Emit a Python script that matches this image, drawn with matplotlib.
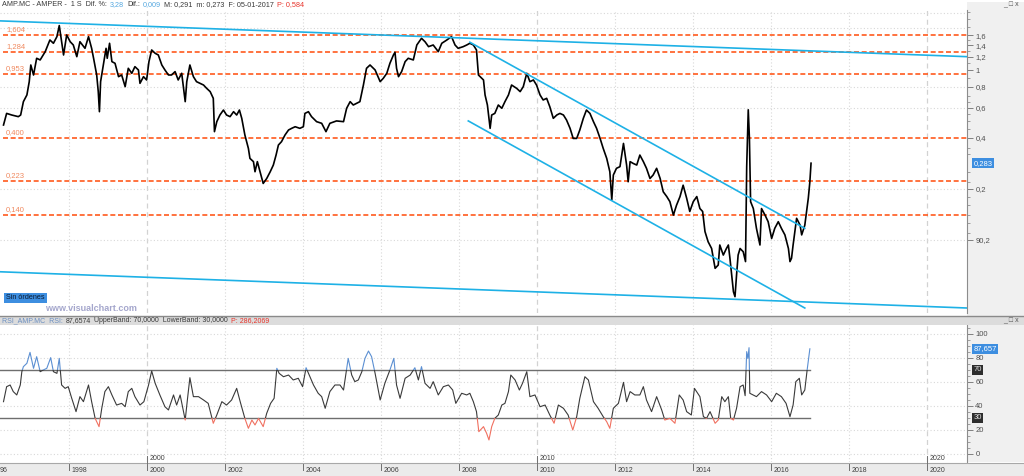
import matplotlib
matplotlib.use("Agg")
import matplotlib.pyplot as plt
from matplotlib.patches import Rectangle
from matplotlib.transforms import blended_transform_factory
from matplotlib.ticker import NullFormatter

plt.rcParams['font.family'] = ['Liberation Sans', 'DejaVu Sans']

# weekly close of AMP.MC (year, price)
price_years = [
    1996.31, 1996.39, 1996.52, 1996.69, 1996.75, 1996.82, 1996.91, 1996.97, 1997.01, 1997.08,
    1997.16, 1997.25, 1997.38, 1997.50, 1997.59, 1997.68, 1997.74, 1997.80, 1997.85, 1997.93,
    1998.02, 1998.10, 1998.19, 1998.27, 1998.40, 1998.49, 1998.57, 1998.62, 1998.70, 1998.74,
    1998.77, 1998.80, 1998.87, 1998.94, 1998.97, 1999.03, 1999.09, 1999.17, 1999.26, 1999.34,
    1999.43, 1999.51, 1999.60, 1999.68, 1999.77, 1999.81, 1999.90, 1999.98, 2000.04, 2000.11,
    2000.20, 2000.28, 2000.37, 2000.45, 2000.54, 2000.62, 2000.71, 2000.79, 2000.88, 2000.97,
    2001.01, 2001.09, 2001.18, 2001.26, 2001.35, 2001.44, 2001.52, 2001.61, 2001.69, 2001.72,
    2001.78, 2001.86, 2001.95, 2002.03, 2002.12, 2002.21, 2002.29, 2002.36, 2002.42, 2002.50,
    2002.59, 2002.63, 2002.72, 2002.76, 2002.82, 2002.89, 2002.97, 2003.06, 2003.15, 2003.23,
    2003.30, 2003.36, 2003.44, 2003.53, 2003.62, 2003.70, 2003.79, 2003.91, 2004.00, 2004.04,
    2004.13, 2004.21, 2004.34, 2004.47, 2004.58, 2004.68, 2004.85, 2005.03, 2005.11, 2005.20,
    2005.28, 2005.45, 2005.54, 2005.62, 2005.71, 2005.84, 2005.97, 2006.05, 2006.14, 2006.22,
    2006.31, 2006.35, 2006.39, 2006.44, 2006.52, 2006.61, 2006.69, 2006.82, 2006.86, 2006.91,
    2007.03, 2007.12, 2007.21, 2007.33, 2007.46, 2007.55, 2007.68, 2007.80, 2007.89, 2007.97,
    2008.10, 2008.19, 2008.27, 2008.36, 2008.44, 2008.49,
    2008.62, 2008.66, 2008.72, 2008.79, 2008.83, 2008.91, 2009.00, 2009.09, 2009.17, 2009.26,
    2009.34, 2009.47, 2009.56, 2009.64, 2009.73, 2009.81, 2009.90, 2009.98,
    2010.07, 2010.15, 2010.24, 2010.32, 2010.41, 2010.50, 2010.58, 2010.67, 2010.75, 2010.84,
    2010.92, 2011.01, 2011.09, 2011.18, 2011.26, 2011.35, 2011.44, 2011.52, 2011.61, 2011.69,
    2011.78, 2011.86, 2011.91, 2011.95,
    2012.03, 2012.12, 2012.21, 2012.29, 2012.33, 2012.38, 2012.46, 2012.55, 2012.63, 2012.72,
    2012.80, 2012.89, 2012.97,
    2013.06, 2013.15, 2013.23, 2013.32, 2013.40, 2013.49, 2013.57, 2013.66, 2013.74, 2013.83,
    2013.91,
    2014.00, 2014.09, 2014.17, 2014.24, 2014.30, 2014.38, 2014.47, 2014.56, 2014.64, 2014.68,
    2014.77, 2014.85, 2014.90, 2014.94,
    2015.03, 2015.07, 2015.11, 2015.15, 2015.20, 2015.28, 2015.34, 2015.37, 2015.41, 2015.44,
    2015.47, 2015.54, 2015.62, 2015.71, 2015.75, 2015.84, 2015.92,
    2016.01, 2016.09, 2016.18, 2016.26, 2016.35, 2016.44, 2016.48, 2016.52, 2016.56, 2016.65,
    2016.74, 2016.78, 2016.86, 2016.95, 2016.99, 2017.02,
]
price_vals = [
    0.475, 0.556, 0.544, 0.532, 0.544, 0.652, 0.714, 0.855, 1.072, 0.936,
    1.174, 1.148, 1.285, 1.505, 1.439, 1.575, 1.83, 1.47, 1.228, 1.611,
    1.47, 1.406, 1.200, 1.47, 1.344, 1.575, 1.344, 1.174, 0.936, 0.747,
    0.569, 0.855, 1.072, 1.344, 1.174, 1.439, 1.122, 1.097, 0.915, 0.936,
    0.799, 1.025, 0.958, 1.048, 1.002, 0.836, 0.915, 0.875, 1.122, 1.314,
    1.256, 1.228, 1.072, 1.002, 0.936, 0.936, 0.980, 0.875, 0.958, 0.652,
    0.855, 1.072, 0.915, 0.855, 0.836, 0.817, 0.781, 0.747, 0.682, 0.434,
    0.497, 0.544, 0.582, 0.544, 0.532, 0.569, 0.544, 0.582, 0.520, 0.415,
    0.346, 0.302, 0.289, 0.252, 0.289, 0.252, 0.215, 0.230, 0.252, 0.276,
    0.316, 0.362, 0.379, 0.415, 0.444, 0.454, 0.464, 0.454, 0.464, 0.556,
    0.569, 0.532, 0.497, 0.486, 0.434, 0.486, 0.502, 0.497, 0.596, 0.652,
    0.623, 0.652, 0.817, 1.025, 1.072, 1.002, 0.855, 0.895, 0.958, 1.097,
    1.228, 1.273, 1.025, 0.915, 0.980, 1.122, 1.174, 1.148, 1.256, 1.406,
    1.54, 1.47, 1.375, 1.406, 1.285, 1.439, 1.505, 1.575, 1.406, 1.344,
    1.375, 1.406, 1.439, 1.406, 1.314, 0.936,
    0.875, 0.714, 0.623, 0.454, 0.544, 0.556, 0.623, 0.596, 0.652, 0.714,
    0.817, 0.781, 0.747, 0.799, 0.958, 0.855, 0.875, 0.817,
    0.714, 0.667, 0.682, 0.609, 0.520, 0.544, 0.556, 0.544, 0.508, 0.454,
    0.396, 0.396, 0.444, 0.520, 0.582, 0.556, 0.497, 0.454, 0.396, 0.346,
    0.302, 0.252, 0.172, 0.241,
    0.264, 0.270, 0.370, 0.276, 0.220, 0.289, 0.282, 0.276, 0.316, 0.289,
    0.264, 0.230, 0.241,
    0.264, 0.230, 0.192, 0.180, 0.168, 0.140, 0.160, 0.180, 0.210, 0.176,
    0.147,
    0.168, 0.180, 0.153, 0.147, 0.112, 0.0976, 0.089, 0.068, 0.0711, 0.0933,
    0.0814, 0.089, 0.0933, 0.078,
    0.0495, 0.0463, 0.0621, 0.0814, 0.089, 0.0852, 0.0745, 0.270, 0.584, 0.396,
    0.168, 0.153, 0.117, 0.0933, 0.153, 0.140, 0.128,
    0.102, 0.117, 0.128, 0.117, 0.107, 0.089, 0.0745, 0.078, 0.0933, 0.134,
    0.122, 0.107, 0.122, 0.176, 0.220, 0.283,
]

# RSI(AMP.MC)
rsi_years = [
    1996.31, 1996.39, 1996.48, 1996.56, 1996.65, 1996.74, 1996.78, 1996.82, 1996.91, 1996.99,
    1997.08, 1997.16, 1997.25, 1997.33, 1997.42, 1997.52, 1997.59, 1997.68, 1997.74, 1997.80,
    1997.89, 1997.97, 1998.06, 1998.17, 1998.27, 1998.36, 1998.49, 1998.57, 1998.66, 1998.76,
    1998.83, 1998.91, 1999.00, 1999.09, 1999.21, 1999.34, 1999.43, 1999.51, 1999.60, 1999.68,
    1999.81, 1999.91, 2000.03, 2000.11, 2000.20, 2000.32, 2000.45, 2000.54, 2000.67, 2000.75,
    2000.84, 2000.97, 2001.03, 2001.09, 2001.18, 2001.31, 2001.44, 2001.56, 2001.69, 2001.78,
    2001.91, 2002.03, 2002.16, 2002.29, 2002.38, 2002.50, 2002.59, 2002.68, 2002.76, 2002.85,
    2002.97, 2003.06, 2003.16, 2003.25, 2003.32, 2003.38, 2003.49, 2003.62, 2003.74, 2003.87,
    2003.98, 2004.07, 2004.15, 2004.26, 2004.38, 2004.47, 2004.56, 2004.68, 2004.81, 2004.94,
    2005.03, 2005.15, 2005.24, 2005.32, 2005.41, 2005.50, 2005.58, 2005.67, 2005.75, 2005.84,
    2005.97, 2006.09, 2006.22, 2006.32, 2006.39, 2006.48, 2006.61, 2006.74, 2006.86, 2006.95,
    2007.03, 2007.12, 2007.25, 2007.33, 2007.46, 2007.59, 2007.72, 2007.83, 2007.91, 2008.06,
    2008.19, 2008.27, 2008.36, 2008.44, 2008.50,
    2008.62, 2008.70, 2008.76, 2008.83, 2008.91, 2009.00, 2009.09, 2009.17, 2009.26, 2009.32,
    2009.43, 2009.54, 2009.62, 2009.73, 2009.81, 2009.94,
    2010.07, 2010.20, 2010.32, 2010.43, 2010.54, 2010.67, 2010.79, 2010.91, 2011.01, 2011.09,
    2011.22, 2011.31, 2011.44, 2011.56, 2011.69, 2011.78, 2011.86, 2011.95,
    2012.08, 2012.21, 2012.29, 2012.38, 2012.50, 2012.63, 2012.72, 2012.80, 2012.93, 2013.06,
    2013.19, 2013.27, 2013.40, 2013.53, 2013.64, 2013.74, 2013.83, 2013.95,
    2014.03, 2014.17, 2014.26, 2014.34, 2014.43, 2014.56, 2014.64, 2014.73, 2014.81, 2014.90,
    2014.96, 2015.03, 2015.11, 2015.20, 2015.28, 2015.33, 2015.37, 2015.40, 2015.43, 2015.45,
    2015.62, 2015.75, 2015.88, 2016.01, 2016.13, 2016.26, 2016.38, 2016.48, 2016.56, 2016.63,
    2016.72, 2016.78, 2016.86, 2016.92, 2016.99,
]
rsi_vals = [
    43.6, 56.1, 57.5, 52.0, 49.2, 57.5, 68.6, 72.8, 75.6, 84.7,
    71.4, 81.1, 68.6, 70.0, 71.4, 80.3, 68.6, 67.2, 79.7, 57.5,
    54.7, 56.1, 46.4, 35.3, 47.8, 43.6, 57.5, 43.6, 29.7, 22.8,
    38.1, 52.0, 56.1, 49.2, 40.8, 42.2, 39.4, 52.0, 54.7, 47.8,
    40.8, 43.6, 57.5, 69.2, 58.9, 49.2, 39.4, 36.7, 49.2, 40.8,
    49.2, 28.3, 46.4, 63.6, 47.8, 47.8, 45.0, 42.2, 25.6, 32.5,
    43.6, 40.8, 45.0, 54.7, 43.6, 29.7, 21.4, 28.3, 24.2, 29.7,
    22.8, 33.9, 42.2, 46.4, 71.4, 67.2, 64.4, 65.8, 61.7, 63.1,
    56.1, 71.9, 65.8, 57.5, 50.6, 47.8, 38.1, 52.0, 57.5, 57.5,
    53.3, 79.7, 65.8, 60.3, 61.7, 68.6, 79.7, 85.8, 81.1, 67.2,
    45.0, 58.9, 70.0, 79.7, 57.5, 46.4, 63.1, 65.8, 71.9, 61.7,
    72.8, 58.9, 54.7, 60.3, 49.2, 56.1, 57.5, 53.3, 42.2, 50.6,
    49.2, 50.6, 43.6, 35.3, 18.6,
    22.8, 17.2, 11.7, 22.8, 29.7, 32.5, 40.8, 42.2, 52.0, 65.8,
    61.7, 53.3, 58.9, 68.6, 47.8, 49.2,
    39.4, 40.8, 32.5, 25.6, 40.8, 38.1, 32.5, 20.0, 31.1, 46.4,
    64.4, 61.7, 43.6, 38.1, 31.1, 26.9, 21.4, 38.1,
    42.2, 59.7, 43.6, 52.0, 49.2, 49.2, 56.1, 45.0, 35.3, 47.8,
    36.7, 28.3, 29.7, 25.6, 49.2, 45.0, 35.3, 32.5,
    54.7, 47.8, 31.1, 29.7, 35.3, 25.6, 28.3, 47.8, 43.6, 47.8,
    29.7, 28.3, 38.1, 56.1, 57.5, 48.6, 85.3, 79.7, 88.6, 50.6,
    47.8, 52.0, 49.2, 43.6, 50.6, 47.8, 42.2, 31.1, 40.8, 60.3,
    63.1, 49.2, 53.3, 70.0, 87.66,
]

levels = [1.604, 1.284, 0.953, 0.400, 0.223, 0.140]
level_labels = ['1,604', '1,284', '0,953', '0,400', '0,223', '0,140']

# trend lines (start year, end year), (start price, end price)
trend_lines = [
    ([1996.22, 2021.02], [1.95, 1.20]),
    ([1996.22, 2021.02], [0.0649, 0.0397]),
    ([2008.27, 2016.86], [1.46, 0.117]),
    ([2008.23, 2016.86], [0.502, 0.0397]),
]

price_ticks = [1.6, 1.4, 1.2, 1.0, 0.8, 0.6, 0.4, 0.2, 0.1]
price_tick_labels = ['1,6', '1,4', '1,2', '1', '0,8', '0,6', '0,4', '0,2', '90,2']
price_minor = [2.2, 2.0, 1.8, 1.5, 1.3, 1.1, 0.9, 0.7, 0.65, 0.55, 0.5, 0.45,
               0.35, 0.32, 0.25, 0.22, 0.18, 0.16, 0.14, 0.125, 0.11]
price_grid = [2.16, 1.78, 0.8, 0.6, 0.2, 0.1]
year_ticks = list(range(1996, 2021, 2))
last_price = 0.283
last_rsi = 87.657

W, H = 1024, 476
X0, X1 = 1996.22, 2021.02

fig = plt.figure(figsize=(W / 100, H / 100), dpi=100)
fig.patch.set_facecolor('white')

# grey right scale strip, behind the axes
fig.patches.append(Rectangle((967 / W, 14 / H), 57 / W, 460 / H, transform=fig.transFigure,
                             facecolor='#f0f0f0', edgecolor='none', zorder=-5))

ax = fig.add_axes([0, 1 - 313 / H, 967 / W, 303 / H])
axr = fig.add_axes([0, 1 - 462 / H, 967 / W, 137 / H])

for a in (ax, axr):
    a.set_facecolor('white')
    a.set_xlim(X0, X1)
    a.set_xticks([])
    for s in ('top', 'left', 'bottom'):
        a.spines[s].set_visible(False)
    a.spines['right'].set_color('#8c8c8c')
    a.yaxis.tick_right()
    a.tick_params(axis='y', which='major', length=4, width=0.7, color='#808080',
                  labelsize=5.5, labelcolor='#505050', pad=2)
    a.tick_params(axis='y', which='minor', length=2, width=0.6, color='#909090')
    for yr in year_ticks:
        if yr % 10 == 0:
            a.axvline(yr, color='#d2d2d2', lw=0.9, ls=(0, (4, 3)), zorder=1)
        else:
            a.axvline(yr, color='#d8d8d8', lw=0.8, ls=(0, (1, 2)), zorder=1)

# ---- price panel ----
ax.set_yscale('log')
ax.set_ylim(0.0371, 2.26)
ax.set_yticks(price_ticks)
ax.set_yticklabels(price_tick_labels)
ax.set_yticks(price_minor, minor=True)
ax.yaxis.set_minor_formatter(NullFormatter())
for g in price_grid:
    ax.axhline(g, color='#d8d8d8', lw=0.8, ls=(0, (1, 2)), zorder=1)

for v, lab in zip(levels, level_labels):
    ax.axhline(v, xmin=3 / 967, color='#ff5a1e', lw=1.2, ls=(0, (3, 1.6)), zorder=2)
    ax.annotate(lab, xy=(X0 + 6 / 39, v), xytext=(0, 1.5), textcoords='offset points',
                fontsize=5.5, color='#f08a60', va='bottom', ha='left')

for xs, ys in trend_lines:
    ax.plot(xs, ys, color='#1eb1e6', lw=1.2, zorder=4)

ax.plot(price_years, price_vals, color='black', lw=1.2, zorder=3)

bt = blended_transform_factory(ax.transAxes, ax.transData)
ax.text(1.0065, last_price, '0,283', transform=bt, va='center', ha='left', fontsize=5.5,
        color='white', clip_on=False,
        bbox=dict(boxstyle='square,pad=0.2', fc='#3d8ee0', ec='none'))

ax.text(0.0065, 0.05, 'Sin órdenes', transform=ax.transAxes, fontsize=5.2, color='#0a1a30',
        va='center', ha='left', bbox=dict(boxstyle='square,pad=0.25', fc='#3d8ee0', ec='none'))
ax.text(45 / 967, 0.014, 'www.visualchart.com', transform=ax.transAxes, fontsize=6.5,
        fontweight='bold', color='#a4a6cc', va='center', ha='left')

# ---- RSI panel ----
axr.set_ylim(-6.67, 107.5)
axr.set_yticks([0, 20, 40, 60, 80, 100])
axr.set_yticks(list(range(5, 106, 5)), minor=True)
for g in range(0, 101, 20):
    axr.axhline(g, color='#d8d8d8', lw=0.8, ls=(0, (1, 2)), zorder=1)
axr.plot([X0, 2016.99], [70, 70], color='#6e6e6e', lw=1.0, zorder=2)
axr.plot([X0, 2016.99], [30, 30], color='#6e6e6e', lw=1.0, zorder=2)

for lo, hi, col in ((30, 70, '#3a3a3a'), (70, 200, '#5b8fd2'), (-100, 30, '#f07060')):
    ln, = axr.plot(rsi_years, rsi_vals, color=col, lw=0.8, zorder=3)
    ln.set_clip_path(Rectangle((1990, lo), 40, hi - lo, transform=axr.transData))

btr = blended_transform_factory(axr.transAxes, axr.transData)
axr.text(1.0065, last_rsi, '87,657', transform=btr, va='center', ha='left', fontsize=5.5,
         color='white', clip_on=False, bbox=dict(boxstyle='square,pad=0.2', fc='#3d8ee0', ec='none'))
for v in (70, 30):
    axr.text(1.0065, v, str(v), transform=btr, va='center', ha='left', fontsize=5.5,
             color='#e0e0e0', clip_on=False, bbox=dict(boxstyle='square,pad=0.2', fc='#2e2e2e', ec='none'))

# ---- header bars and date axis ----
fig.patches.append(Rectangle((0, 1 - 325 / H), 1, 9 / H, transform=fig.transFigure,
                             facecolor='#dcdcdc', edgecolor='none', zorder=1))
fig.lines.append(plt.Line2D([0, 1], [1 - 315.5 / H] * 2, transform=fig.transFigure,
                            color='#8a8a8a', lw=1.0))
fig.patches.append(Rectangle((0, 0), 1, 13 / H, transform=fig.transFigure,
                             facecolor='#ebebeb', edgecolor='none', zorder=1))
fig.lines.append(plt.Line2D([0, 1], [13.5 / H] * 2, transform=fig.transFigure,
                            color='#a8a8a8', lw=0.8))

bx = blended_transform_factory(axr.transData, fig.transFigure)
for yr in year_ticks:
    if yr == 1996:
        fig.text(0, 5 / H, '96', fontsize=5, color='#404040', va='center', ha='left')
        continue
    fig.lines.append(plt.Line2D([yr, yr], [6 / H, 12 / H], transform=bx, color='#707070', lw=0.7))
    fig.text(yr + 2 / 39, 5 / H, str(yr), transform=bx, fontsize=5, color='#404040',
             va='center', ha='left')
    if yr % 10 == 0:
        fig.lines.append(plt.Line2D([yr, yr], [13 / H, 20 / H], transform=bx, color='#707070', lw=0.7))
        fig.text(yr + 2 / 39, 17.5 / H, str(yr), transform=bx, fontsize=5, color='#404040',
                 va='center', ha='left')

renderer = fig.canvas.get_renderer()


def parts_text(x_px, y_px, parts, size):
    x = x_px
    for s, c in parts:
        t = fig.text(x / W, 1 - y_px / H, s, fontsize=size, color=c, va='center', ha='left')
        x += t.get_window_extent(renderer=renderer).width + 3


dark = '#3a3a3a'
parts_text(2, 5, [('AMP.MC - AMPER -  1 S  Dif. %:', dark), ('3,28', '#55a8e0'),
                  ('Dif.:', dark), ('0,009', '#55a8e0'),
                  ('M: 0,291  m: 0,273  F: 05-01-2017', dark), ('P: 0,584', '#e8332a')], 5.2)
parts_text(2, 320.5, [('RSI_AMP.MC  RSI:', '#6a8ec0'), ('87,6574', dark),
                      ('UpperBand: 70,0000  LowerBand: 30,0000', dark), ('P: 286,2069', '#e8332a')], 5)

for yy in (5, 320.5):
    fig.text(1003 / W, 1 - yy / H, '_ □ x', fontsize=5, color='#555555', va='center', ha='left')

fig.savefig('out.png', dpi=100)
